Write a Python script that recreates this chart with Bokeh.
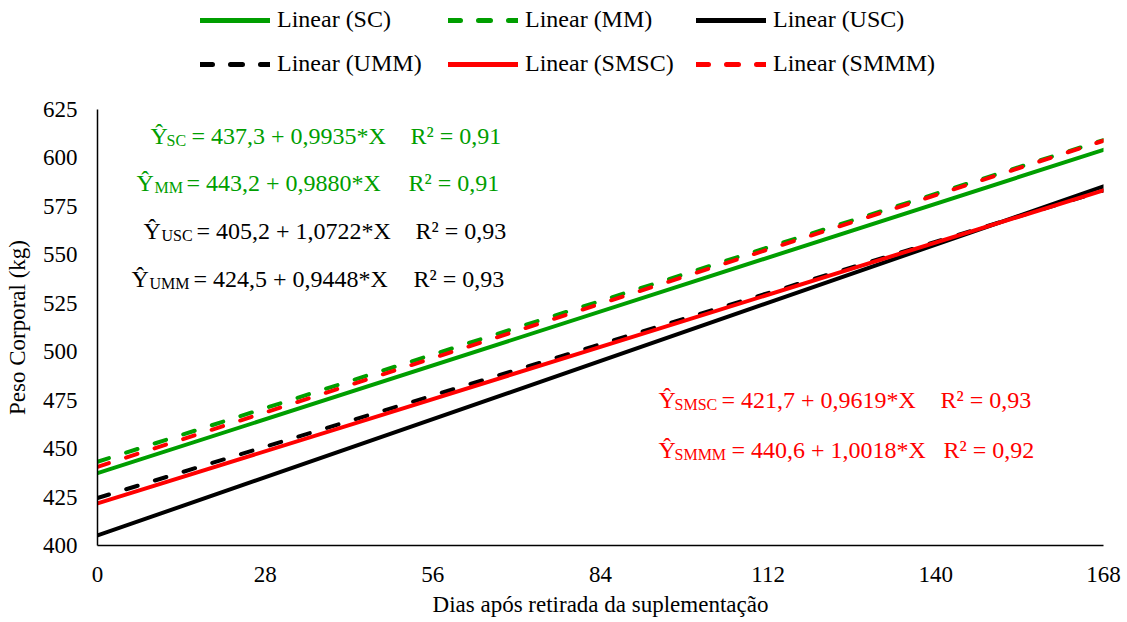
from bokeh.plotting import figure
from bokeh.layouts import column
from bokeh.models import Legend, LegendItem, Label, Range1d, FixedTicker
from bokeh.embed import file_html
from bokeh.resources import INLINE

# ---- data ----
series = ["SC", "MM", "USC", "UMM", "SMSC", "SMMM"]
intercepts = ["437,3", "443,2", "405,2", "424,5", "421,7", "440,6"]
slopes = ["0,9935", "0,9880", "1,0722", "0,9448", "0,9619", "1,0018"]
r2 = ["0,91", "0,91", "0,93", "0,93", "0,93", "0,92"]
x_days = [0, 168]
y_start = [437.3, 443.2, 405.2, 424.5, 421.7, 440.6]
y_end = [604.2, 609.2, 585.3, 583.2, 583.3, 608.9]
x_ticks = [0, 28, 56, 84, 112, 140, 168]
y_ticks = [400, 425, 450, 475, 500, 525, 550, 575, 600, 625]

# ---- styles ----
GREEN = "#009e00"
RED = "#ff0000"
BLACK = "#000000"
colors = [GREEN, GREEN, BLACK, BLACK, RED, RED]
dashes = ["solid", "12 18", "solid", "12 18", "solid", "12 18"]
FONT = "Liberation Serif"

W = 1125
LEG_H = 90
FL, FT, FW, FH = 97, 19, 1006, 436  # frame offsets within main figure
MAIN_H = 532

# ---- legend strip (separate figure above the chart; its frame aligns with the main frame) ----
leg = figure(width=W, height=LEG_H, output_backend="svg", toolbar_location=None,
             x_range=Range1d(-1, 0), y_range=Range1d(-1, 0),
             x_axis_type=None, y_axis_type=None, min_border=0)
leg.outline_line_color = None
leg.grid.visible = False
leg_items = []
for i, s in enumerate(series):
    # same data as the chart, but outside this strip's view: only the legend glyph shows
    r = leg.line(x_days, [y_start[i], y_end[i]], line_color=colors[i], line_width=5,
                 line_dash=dashes[i], line_cap="round")
    leg_items.append(LegendItem(label="Linear (%s)" % s, renderers=[r]))
legend = Legend(items=leg_items, orientation="horizontal", ncols=3,
                location=(200 - FL, 13),
                glyph_width=70, glyph_height=24, label_height=24, label_width=154,
                label_standoff=7, spacing=17, padding=0, margin=0,
                border_line_color=None, background_fill_alpha=0,
                label_text_font=FONT, label_text_font_size="24px",
                label_text_color="black")
leg.add_layout(legend, "center")

# ---- main chart ----
p = figure(width=W, height=MAIN_H, output_backend="svg",
           toolbar_location=None, x_range=Range1d(0, 168), y_range=Range1d(400, 625),
           frame_width=FW, frame_height=FH,
           min_border_left=FL, min_border_top=FT, min_border_right=W - FL - FW,
           min_border_bottom=MAIN_H - FT - FH)
p.outline_line_color = None
p.xgrid.visible = False
p.ygrid.visible = False

for ax in (p.xaxis[0], p.yaxis[0]):
    ax.axis_line_color = "black"
    ax.axis_line_width = 1.5
    ax.major_tick_line_color = None
    ax.minor_tick_line_color = None
    ax.major_tick_out = 0
    ax.major_tick_in = 0
    ax.major_label_text_font = FONT
    ax.major_label_text_font_size = "23px"
    ax.major_label_text_color = "black"
    ax.axis_label_text_font = FONT
    ax.axis_label_text_font_size = "23px"
    ax.axis_label_text_font_style = "normal"
    ax.axis_label_text_color = "black"

p.xaxis.ticker = FixedTicker(ticks=x_ticks)
p.yaxis.ticker = FixedTicker(ticks=y_ticks)
p.xaxis.major_label_standoff = 21
p.yaxis.major_label_standoff = 20
p.xaxis.axis_label = "Dias após retirada da suplementação"
p.yaxis.axis_label = "Peso Corporal (kg)"
p.xaxis.axis_label_standoff = 7
p.yaxis.axis_label_standoff = 10

for i, s in enumerate(series):
    p.line(x_days, [y_start[i], y_end[i]], line_color=colors[i], line_width=4,
           line_dash=dashes[i], line_cap="round")

# equation annotations (page pixel layout: hat x, sub x, main x, R2 x, baseline y)
eq_layout = [
    (150, 166, 191, 410, 135),
    (136, 154, 186, 408, 182),
    (143, 161, 196, 415, 230),
    (131, 149, 193, 413, 278),
    (658, 674, 721, 940, 399),
    (658, 674, 731, 943, 449),
]
text_colors = [GREEN, GREEN, BLACK, BLACK, RED, RED]
X0, Y0 = FL, LEG_H + FT + FH  # page position of frame bottom-left


def lab(txt, px, py, size, color):
    p.add_layout(Label(x=px - X0, y=Y0 - py, x_units="screen", y_units="screen",
                       text=txt, text_font=FONT, text_font_size=size,
                       text_color=color, text_baseline="alphabetic", text_align="left"))


for i, s in enumerate(series):
    xh, xs, xm, xr, by = eq_layout[i]
    c = text_colors[i]
    lab("Ŷ", xh, by, "24px", c)
    lab(s, xs, by + 5, "16px", c)
    lab("= %s + %s*X" % (intercepts[i], slopes[i]), xm, by, "24px", c)
    lab("R² = %s" % r2[i], xr, by, "24px", c)

layout = column(leg, p, spacing=0)
open("out.html", "w").write(file_html(layout, INLINE))
